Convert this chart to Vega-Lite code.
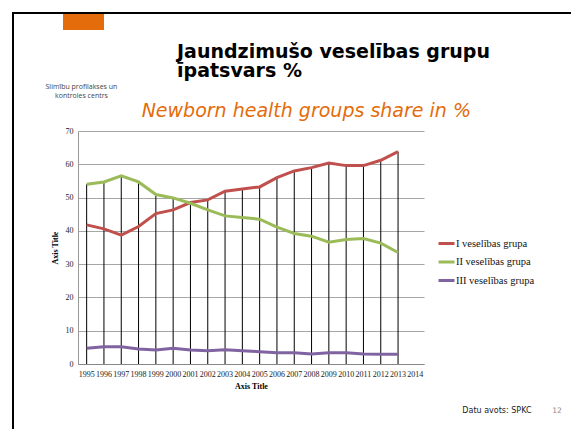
{
  "$schema": "https://vega.github.io/schema/vega-lite/v6.json",
  "width": 346,
  "height": 233,
  "autosize": {"type": "none"},
  "padding": {"left": 78, "top": 131, "right": 147, "bottom": 65},
  "background": "white",
  "config": {
    "view": {"stroke": null},
    "font": "Liberation Serif",
    "axisX": {
      "titleFont": "Liberation Serif", "titleFontSize": 8, "titleFontWeight": "bold", "titleColor": "black", "titlePadding": 4,
      "labelFont": "Liberation Serif", "labelFontSize": 8, "labelColor": "#222", "labelAngle": 0, "labelPadding": 6, "labelOverlap": false,
      "ticks": false, "domainColor": "#888", "domainWidth": 1, "grid": false
    },
    "axisY": {
      "titleFont": "Liberation Serif", "titleFontSize": 8, "titleFontWeight": "bold", "titleColor": "black", "titlePadding": 6,
      "labelFont": "Liberation Serif", "labelFontSize": 8, "labelColor": "#222", "labelPadding": 5, "labelOverlap": false,
      "tickCount": 8, "ticks": false, "domainColor": "#999", "grid": true, "gridColor": "#a6a6a6", "gridWidth": 1
    }
  },
  "data": {
    "values": [
      {"year": "1995", "group": "I veselības grupa", "value": 41.8},
      {"year": "1996", "group": "I veselības grupa", "value": 40.6},
      {"year": "1997", "group": "I veselības grupa", "value": 38.7},
      {"year": "1998", "group": "I veselības grupa", "value": 41.3},
      {"year": "1999", "group": "I veselības grupa", "value": 45.2},
      {"year": "2000", "group": "I veselības grupa", "value": 46.3},
      {"year": "2001", "group": "I veselības grupa", "value": 48.5},
      {"year": "2002", "group": "I veselības grupa", "value": 49.3},
      {"year": "2003", "group": "I veselības grupa", "value": 51.9},
      {"year": "2004", "group": "I veselības grupa", "value": 52.6},
      {"year": "2005", "group": "I veselības grupa", "value": 53.2},
      {"year": "2006", "group": "I veselības grupa", "value": 56.0},
      {"year": "2007", "group": "I veselības grupa", "value": 58.0},
      {"year": "2008", "group": "I veselības grupa", "value": 59.0},
      {"year": "2009", "group": "I veselības grupa", "value": 60.4},
      {"year": "2010", "group": "I veselības grupa", "value": 59.6},
      {"year": "2011", "group": "I veselības grupa", "value": 59.6},
      {"year": "2012", "group": "I veselības grupa", "value": 61.2},
      {"year": "2013", "group": "I veselības grupa", "value": 63.8},
      {"year": "1995", "group": "II veselības grupa", "value": 54.0},
      {"year": "1996", "group": "II veselības grupa", "value": 54.7},
      {"year": "1997", "group": "II veselības grupa", "value": 56.5},
      {"year": "1998", "group": "II veselības grupa", "value": 54.7},
      {"year": "1999", "group": "II veselības grupa", "value": 50.9},
      {"year": "2000", "group": "II veselības grupa", "value": 49.9},
      {"year": "2001", "group": "II veselības grupa", "value": 48.3},
      {"year": "2002", "group": "II veselības grupa", "value": 46.3},
      {"year": "2003", "group": "II veselības grupa", "value": 44.5},
      {"year": "2004", "group": "II veselības grupa", "value": 44.0},
      {"year": "2005", "group": "II veselības grupa", "value": 43.5},
      {"year": "2006", "group": "II veselības grupa", "value": 41.1},
      {"year": "2007", "group": "II veselības grupa", "value": 39.2},
      {"year": "2008", "group": "II veselības grupa", "value": 38.4},
      {"year": "2009", "group": "II veselības grupa", "value": 36.6},
      {"year": "2010", "group": "II veselības grupa", "value": 37.4},
      {"year": "2011", "group": "II veselības grupa", "value": 37.7},
      {"year": "2012", "group": "II veselības grupa", "value": 36.3},
      {"year": "2013", "group": "II veselības grupa", "value": 33.5},
      {"year": "1995", "group": "III veselības grupa", "value": 4.7},
      {"year": "1996", "group": "III veselības grupa", "value": 5.2},
      {"year": "1997", "group": "III veselības grupa", "value": 5.2},
      {"year": "1998", "group": "III veselības grupa", "value": 4.5},
      {"year": "1999", "group": "III veselības grupa", "value": 4.2},
      {"year": "2000", "group": "III veselības grupa", "value": 4.7},
      {"year": "2001", "group": "III veselības grupa", "value": 4.2},
      {"year": "2002", "group": "III veselības grupa", "value": 4.0},
      {"year": "2003", "group": "III veselības grupa", "value": 4.3},
      {"year": "2004", "group": "III veselības grupa", "value": 4.0},
      {"year": "2005", "group": "III veselības grupa", "value": 3.7},
      {"year": "2006", "group": "III veselības grupa", "value": 3.4},
      {"year": "2007", "group": "III veselības grupa", "value": 3.4},
      {"year": "2008", "group": "III veselības grupa", "value": 3.0},
      {"year": "2009", "group": "III veselības grupa", "value": 3.4},
      {"year": "2010", "group": "III veselības grupa", "value": 3.4},
      {"year": "2011", "group": "III veselības grupa", "value": 3.0},
      {"year": "2012", "group": "III veselības grupa", "value": 2.9},
      {"year": "2013", "group": "III veselības grupa", "value": 2.9}
    ]
  },
  "encoding": {
    "x": {
      "field": "year", "type": "ordinal",
      "scale": {"domain": ["1995","1996","1997","1998","1999","2000","2001","2002","2003","2004","2005","2006","2007","2008","2009","2010","2011","2012","2013","2014"], "paddingInner": 0, "paddingOuter": 0},
      "axis": {"title": "Axis Title"}
    }
  },
  "layer": [
    {
      "mark": {"type": "rule", "color": "black", "strokeWidth": 1},
      "transform": [{"aggregate": [{"op": "max", "field": "value", "as": "value"}], "groupby": ["year"]}],
      "encoding": {
        "y": {
          "field": "value", "type": "quantitative",
          "scale": {"domain": [0, 70], "nice": false},
          "axis": {"title": "Axis Title", "values": [0, 10, 20, 30, 40, 50, 60, 70], "tickCount": 8}
        },
        "y2": {"datum": 0}
      }
    },
    {
      "mark": {"type": "line", "strokeWidth": 3},
      "encoding": {
        "y": {
          "field": "value", "type": "quantitative",
          "axis": {"title": "Axis Title", "values": [0, 10, 20, 30, 40, 50, 60, 70], "tickCount": 8}
        },
        "color": {
          "field": "group", "type": "nominal",
          "scale": {"domain": ["I veselības grupa", "II veselības grupa", "III veselības grupa"], "range": ["#C0504D", "#9BBB59", "#8064A2"]},
          "legend": {
            "title": null, "orient": "none", "legendX": 359, "legendY": 103,
            "symbolType": "stroke", "symbolSize": 256, "symbolStrokeWidth": 3, "symbolOffset": 0,
            "labelFont": "Liberation Serif", "labelFontSize": 10.5, "labelColor": "#111", "labelOffset": 0,
            "rowPadding": 2.5
          }
        }
      }
    },
    {
      "data": {"values": [{"shape": "frame"}]},
      "mark": {"type": "point", "shape": "M-7.365,29.9V-11.8H48.5", "size": 400, "filled": false, "stroke": "black", "strokeWidth": 2, "opacity": 1},
      "encoding": {"x": {"datum": "1995", "type": "ordinal", "axis": {"title": "Axis Title"}}, "y": {"datum": 70, "type": "quantitative", "axis": {"title": "Axis Title", "values": [0, 10, 20, 30, 40, 50, 60, 70], "tickCount": 8}}}
    },
    {
      "data": {"values": [{"shape": "tab"}]},
      "mark": {"type": "point", "shape": "M-2.365,-11.7H1.735V-10.1H-2.365Z", "size": 400, "filled": true, "fill": "#E46C0A", "strokeWidth": 0, "opacity": 1},
      "encoding": {"x": {"datum": "1995", "type": "ordinal", "axis": {"title": "Axis Title"}}, "y": {"datum": 70, "type": "quantitative", "axis": {"title": "Axis Title", "values": [0, 10, 20, 30, 40, 50, 60, 70], "tickCount": 8}}}
    },
    {
      "data": {"values": [{"label": "Jaundzimušo veselības grupu"}]},
      "mark": {"type": "text", "font": "DejaVu Sans", "fontSize": 19, "fontWeight": "bold", "color": "black", "align": "left", "dx": 90.4, "dy": -73, "baseline": "alphabetic"},
      "encoding": {"x": {"datum": "1995", "type": "ordinal", "axis": {"title": "Axis Title"}}, "y": {"datum": 70, "type": "quantitative", "axis": {"title": "Axis Title", "values": [0, 10, 20, 30, 40, 50, 60, 70], "tickCount": 8}}, "text": {"field": "label"}}
    },
    {
      "data": {"values": [{"label": "īpatsvars %"}]},
      "mark": {"type": "text", "font": "DejaVu Sans", "fontSize": 19, "fontWeight": "bold", "color": "black", "align": "left", "dx": 90.4, "dy": -54, "baseline": "alphabetic"},
      "encoding": {"x": {"datum": "1995", "type": "ordinal", "axis": {"title": "Axis Title"}}, "y": {"datum": 70, "type": "quantitative", "axis": {"title": "Axis Title", "values": [0, 10, 20, 30, 40, 50, 60, 70], "tickCount": 8}}, "text": {"field": "label"}}
    },
    {
      "data": {"values": [{"label": "Newborn health groups share in %"}]},
      "mark": {"type": "text", "font": "DejaVu Sans", "fontSize": 19, "fontStyle": "italic", "color": "#E46C0A", "align": "left", "dx": 55, "dy": -14, "baseline": "alphabetic"},
      "encoding": {"x": {"datum": "1995", "type": "ordinal", "axis": {"title": "Axis Title"}}, "y": {"datum": 70, "type": "quantitative", "axis": {"title": "Axis Title", "values": [0, 10, 20, 30, 40, 50, 60, 70], "tickCount": 8}}, "text": {"field": "label"}}
    },
    {
      "data": {"values": [{"label": "Slimību profilakses un"}]},
      "mark": {"type": "text", "font": "Open Sans", "fontSize": 7, "color": "#444", "align": "center", "dx": -5.2, "dy": -42, "baseline": "alphabetic"},
      "encoding": {"x": {"datum": "1995", "type": "ordinal", "axis": {"title": "Axis Title"}}, "y": {"datum": 70, "type": "quantitative", "axis": {"title": "Axis Title", "values": [0, 10, 20, 30, 40, 50, 60, 70], "tickCount": 8}}, "text": {"field": "label"}}
    },
    {
      "data": {"values": [{"label": "kontroles centrs"}]},
      "mark": {"type": "text", "font": "Open Sans", "fontSize": 7, "color": "#444", "align": "center", "dx": -5.2, "dy": -33, "baseline": "alphabetic"},
      "encoding": {"x": {"datum": "1995", "type": "ordinal", "axis": {"title": "Axis Title"}}, "y": {"datum": 70, "type": "quantitative", "axis": {"title": "Axis Title", "values": [0, 10, 20, 30, 40, 50, 60, 70], "tickCount": 8}}, "text": {"field": "label"}}
    },
    {
      "data": {"values": [{"label": "Datu avots: SPKC"}]},
      "mark": {"type": "text", "font": "DejaVu Sans", "fontSize": 8, "color": "#222", "align": "left", "dx": 47, "dy": 49, "baseline": "alphabetic"},
      "encoding": {"x": {"datum": "2014", "type": "ordinal", "axis": {"title": "Axis Title"}}, "y": {"datum": 0, "type": "quantitative", "axis": {"title": "Axis Title", "values": [0, 10, 20, 30, 40, 50, 60, 70], "tickCount": 8}}, "text": {"field": "label"}}
    },
    {
      "data": {"values": [{"label": "12"}]},
      "mark": {"type": "text", "font": "DejaVu Sans", "fontSize": 7.5, "color": "#8c8c8c", "align": "left", "dx": 137, "dy": 49, "baseline": "alphabetic"},
      "encoding": {"x": {"datum": "2014", "type": "ordinal", "axis": {"title": "Axis Title"}}, "y": {"datum": 0, "type": "quantitative", "axis": {"title": "Axis Title", "values": [0, 10, 20, 30, 40, 50, 60, 70], "tickCount": 8}}, "text": {"field": "label"}}
    }
  ]
}
